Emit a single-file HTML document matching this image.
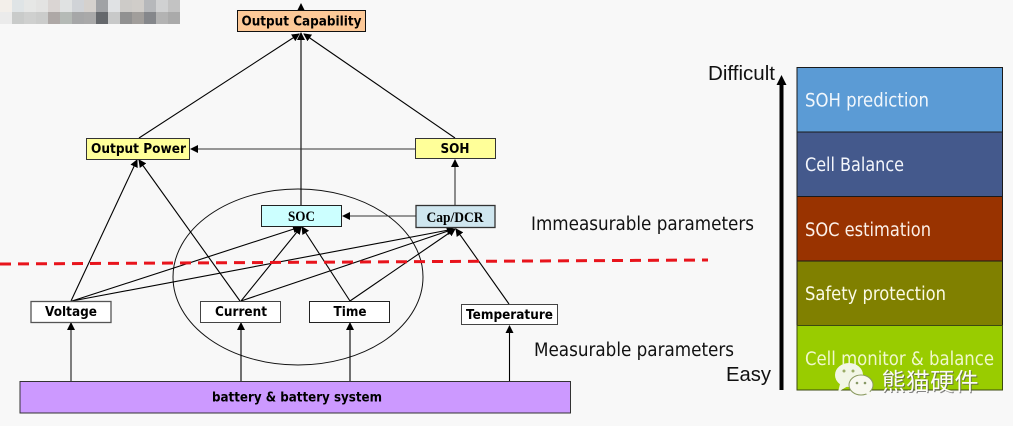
<!DOCTYPE html>
<html><head><meta charset="utf-8"><style>
html,body{margin:0;padding:0;background:#f8f8f8;}
svg{display:block;}
.b{font-family:"DejaVu Sans",sans-serif;font-weight:bold;font-size:13.500px;fill:#000;text-anchor:middle;}
.s{font-family:"Liberation Serif",serif;font-weight:bold;font-size:15px;fill:#000;text-anchor:middle;}
.t{font-family:"DejaVu Sans",sans-serif;font-size:18.500px;fill:#111;}
.a{font-family:"Liberation Sans",sans-serif;font-size:20px;fill:#111;}
.w{font-family:"DejaVu Sans",sans-serif;font-size:18.500px;}
</style></head><body>
<svg width="1013" height="426" viewBox="0 0 1013 426" xmlns="http://www.w3.org/2000/svg">
<defs>
<marker id="h" markerWidth="8" markerHeight="8" refX="7" refY="4" orient="auto" markerUnits="userSpaceOnUse"><path d="M0 0L8 4L0 8Z" fill="#000"/></marker>
</defs>
<rect width="1013" height="426" fill="#f8f8f8"/>
<!-- mosaic -->
<g>
<rect x="0" y="0" width="12" height="12" fill="#f3efea"/><rect x="12" y="0" width="12" height="12" fill="#dfe4e6"/><rect x="24" y="0" width="12" height="12" fill="#e6e7e6"/><rect x="36" y="0" width="12" height="12" fill="#e3e3e2"/><rect x="48" y="0" width="12" height="12" fill="#dad5d3"/><rect x="60" y="0" width="12" height="12" fill="#e0e2e2"/><rect x="72" y="0" width="12" height="12" fill="#d0d3d7"/><rect x="84" y="0" width="12" height="12" fill="#d5d1cd"/><rect x="96" y="0" width="12" height="12" fill="#a0a2a5"/><rect x="108" y="0" width="12" height="12" fill="#e0e2e4"/><rect x="120" y="0" width="12" height="12" fill="#cdcbc8"/><rect x="132" y="0" width="12" height="12" fill="#d0cdc9"/><rect x="144" y="0" width="12" height="12" fill="#b6b8bb"/><rect x="156" y="0" width="12" height="12" fill="#d0d1d2"/><rect x="168" y="0" width="12" height="12" fill="#c3c3c3"/>
<rect x="0" y="12" width="12" height="12" fill="#ebebeb"/><rect x="12" y="12" width="12" height="12" fill="#c9cbca"/><rect x="24" y="12" width="12" height="12" fill="#cfd0cf"/><rect x="36" y="12" width="12" height="12" fill="#cbcccb"/><rect x="48" y="12" width="12" height="12" fill="#aea8a6"/><rect x="60" y="12" width="12" height="12" fill="#b5bab6"/><rect x="72" y="12" width="12" height="12" fill="#a6a7a8"/><rect x="84" y="12" width="12" height="12" fill="#a9a9a9"/><rect x="96" y="12" width="12" height="12" fill="#65686c"/><rect x="108" y="12" width="12" height="12" fill="#c8c9c9"/><rect x="120" y="12" width="12" height="12" fill="#919191"/><rect x="132" y="12" width="12" height="12" fill="#a19e9b"/><rect x="144" y="12" width="12" height="12" fill="#85878b"/><rect x="156" y="12" width="12" height="12" fill="#b3b3b3"/><rect x="168" y="12" width="12" height="12" fill="#aaaaaa"/>
</g>
<!-- ellipse -->
<ellipse cx="298" cy="277" rx="125" ry="88" fill="none" stroke="#111" stroke-width="1"/>
<!-- connectors -->
<g stroke="#000" stroke-width="1.100" fill="none" marker-end="url(#h)">
<path d="M301 10V4"/>
<path d="M139 138L299 34"/>
<path d="M301 205V33"/>
<path d="M455 138L304 34"/>
<path d="M415 149H191" stroke="#333"/>
<path d="M455 205V160" stroke="#333"/>
<path d="M416 216H343" stroke="#333"/>
<path d="M71 301L137 160"/>
<path d="M240 301L139 160"/>
<path d="M72 301L300 227"/>
<path d="M72 301L454 229"/>
<path d="M241 301L301 227"/>
<path d="M241 301L454 229"/>
<path d="M350 301L302 227"/>
<path d="M350 301L455 229"/>
<path d="M509 304L456 229"/>
<path d="M71 381V323" stroke="#555" stroke-width="1.500"/>
<path d="M241 381V323"/>
<path d="M350 381V323"/>
<path d="M509.500 381V326"/>
</g>
<!-- dashed -->
<line x1="0" y1="264" x2="708" y2="260" stroke="#e8141c" stroke-width="3" stroke-dasharray="11 7"/>
<!-- nodes -->
<rect x="237.500" y="10.500" width="128" height="21" fill="#fdc998" stroke="#111"/>
<text class="b" x="301.500" y="25.500" textLength="120" lengthAdjust="spacingAndGlyphs">Output Capability</text>
<rect x="86.500" y="138.500" width="103" height="21" fill="#ffff99" stroke="#333"/>
<text class="b" x="138.500" y="153" textLength="95" lengthAdjust="spacingAndGlyphs">Output Power</text>
<rect x="415.500" y="138.500" width="80" height="20" fill="#ffff99" stroke="#333"/>
<text class="b" x="455" y="153" textLength="29" lengthAdjust="spacingAndGlyphs">SOH</text>
<rect x="261.500" y="205.500" width="80" height="21" fill="#ccffff" stroke="#222"/>
<text class="s" x="301.500" y="221" textLength="27" lengthAdjust="spacingAndGlyphs">SOC</text>
<rect x="416" y="205.500" width="79" height="22" fill="#cfe6ef" stroke="#333" stroke-width="1.300"/>
<text class="s" x="455" y="222" textLength="57" lengthAdjust="spacingAndGlyphs">Cap/DCR</text>
<rect x="31" y="301.500" width="80" height="21" fill="#fff" stroke="#555" stroke-width="1.300"/>
<text class="b" x="71" y="316" textLength="52" lengthAdjust="spacingAndGlyphs">Voltage</text>
<rect x="200.500" y="301.500" width="80" height="21" fill="#fff" stroke="#444"/>
<text class="b" x="241" y="316" textLength="52" lengthAdjust="spacingAndGlyphs">Current</text>
<rect x="309.500" y="301.500" width="80" height="21" fill="#fff" stroke="#222"/>
<text class="b" x="350" y="316" textLength="33" lengthAdjust="spacingAndGlyphs">Time</text>
<rect x="461.500" y="304.500" width="96" height="20" fill="#fff" stroke="#444"/>
<text class="b" x="509.500" y="319" textLength="87" lengthAdjust="spacingAndGlyphs">Temperature</text>
<rect x="20" y="381.500" width="550.500" height="31.500" fill="#cc99ff" stroke="#333"/>
<text class="b" x="297" y="401.500" textLength="170" lengthAdjust="spacingAndGlyphs">battery &amp; battery system</text>
<!-- side labels -->
<text class="t" x="531" y="230" textLength="223" lengthAdjust="spacingAndGlyphs">Immeasurable parameters</text>
<text class="t" x="534" y="356" textLength="200" lengthAdjust="spacingAndGlyphs">Measurable parameters</text>
<text class="a" x="708" y="80" textLength="67" lengthAdjust="spacingAndGlyphs">Difficult</text>
<text class="a" x="726" y="381" textLength="45" lengthAdjust="spacingAndGlyphs">Easy</text>
<!-- scale arrow -->
<line x1="781.500" y1="390" x2="781.500" y2="82" stroke="#000" stroke-width="4"/>
<path d="M776.500 85L781.500 75L786.500 85Z" fill="#000"/>
<!-- stack -->
<rect x="797" y="67.500" width="205.500" height="64.500" fill="#5b9bd5" stroke="#1a1a1a"/>
<rect x="797" y="132" width="205.500" height="64.500" fill="#44598c" stroke="#1a1a1a"/>
<rect x="797" y="196.500" width="205.500" height="64.500" fill="#993300" stroke="#1a1a1a"/>
<rect x="797" y="261" width="205.500" height="64.500" fill="#808000" stroke="#1a1a1a"/>
<rect x="797" y="325.500" width="205.500" height="64.500" fill="#99cc00" stroke="#3c4a10"/>
<text class="w" fill="#f2f7fc" x="805" y="106.500" textLength="124" lengthAdjust="spacingAndGlyphs">SOH prediction</text>
<text class="w" fill="#f4f6fb" x="805" y="171" textLength="99" lengthAdjust="spacingAndGlyphs">Cell Balance</text>
<text class="w" fill="#fbf0e8" x="805" y="236" textLength="126" lengthAdjust="spacingAndGlyphs">SOC estimation</text>
<text class="w" fill="#fbfbe6" x="805" y="300" textLength="141" lengthAdjust="spacingAndGlyphs">Safety protection</text>
<text class="w" fill="#f0f8cc" x="805" y="365" textLength="189" lengthAdjust="spacingAndGlyphs">Cell monitor &amp; balance</text>
<!-- watermark -->
<ellipse cx="849" cy="375" rx="14" ry="12" fill="#f2f6e6"/>
<path d="M840 384L838 392L848 386Z" fill="#f2f6e6"/>
<circle cx="844" cy="371" r="1.500" fill="#99aa66"/><circle cx="853" cy="371" r="1.500" fill="#99aa66"/>
<ellipse cx="861" cy="385" rx="12" ry="10" fill="#f8f8f0" stroke="#8a9a60" stroke-width="1"/>
<path d="M865 393L872 397L869 390Z" fill="#f8f8f0"/>
<circle cx="857" cy="383" r="1.300" fill="#889966"/><circle cx="865" cy="383" r="1.300" fill="#889966"/>
<text x="882.500" y="391" font-family="'Noto Sans CJK SC',sans-serif" font-size="24" fill="#555" opacity=".7" textLength="97" lengthAdjust="spacing">熊猫硬件</text>
<text x="881.500" y="390" font-family="'Noto Sans CJK SC',sans-serif" font-size="24" fill="#fbfbf6" textLength="97" lengthAdjust="spacing">熊猫硬件</text>
</svg>
</body></html>
